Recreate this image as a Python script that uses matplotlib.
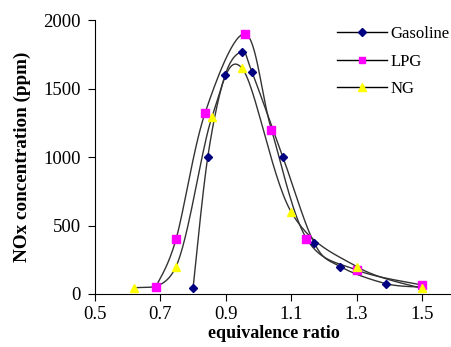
import numpy as np
import matplotlib
matplotlib.use("Agg")
import matplotlib.pyplot as plt
from matplotlib.lines import Line2D

# Data
gas_x = [0.80, 0.845, 0.898, 0.95, 0.98, 1.075, 1.17, 1.25, 1.39, 1.50]
gas_y = [40, 1000, 1600, 1770, 1625, 1000, 375, 200, 75, 50]
lpg_x = [0.686, 0.748, 0.837, 0.96, 1.04, 1.147, 1.30, 1.50]
lpg_y = [50, 400, 1325, 1900, 1200, 405, 175, 65]
ng_x = [0.62, 0.748, 0.858, 0.95, 1.10, 1.30, 1.50]
ng_y = [40, 200, 1295, 1650, 600, 200, 40]
xticks = [0.5, 0.7, 0.9, 1.1, 1.3, 1.5]
yticks = [0, 500, 1000, 1500, 2000]

plt.rcParams['font.family'] = ['Liberation Serif', 'DejaVu Serif']


def smooth(xs, ys, n=30):
    """Excel-like smoothed line (Catmull-Rom via cubic Bezier) through the points."""
    p = np.column_stack([xs, ys]).astype(float)
    sx, sy = 327.0, 0.137
    q = p * [sx, sy]
    out = []
    m = len(q)
    for i in range(m - 1):
        p0 = q[i - 1] if i > 0 else q[i]
        p1 = q[i]
        p2 = q[i + 1]
        p3 = q[i + 2] if i + 2 < m else q[i + 1]
        c1 = p1 + (p2 - p0) / 6.0
        c2 = p2 - (p3 - p1) / 6.0
        t = np.linspace(0, 1, n)[:, None]
        seg = ((1 - t) ** 3) * p1 + 3 * ((1 - t) ** 2) * t * c1 + 3 * (1 - t) * t ** 2 * c2 + t ** 3 * p2
        out.append(seg if i == 0 else seg[1:])
    r = np.vstack(out) / [sx, sy]
    return r[:, 0], r[:, 1]


fig = plt.figure(figsize=(4.52, 3.47), dpi=100)
ax = fig.add_axes([0.21, 0.153, 0.79, 0.788])

line_c = '#333333'
series = [
    (gas_x, gas_y, 'D', '#000080', 4.3, 'Gasoline'),
    (lpg_x, lpg_y, 's', '#FF00FF', 5.4, 'LPG'),
    (ng_x, ng_y, '^', '#FFFF00', 5.8, 'NG'),
]
handles = []
for xs, ys, mk, col, ms, lab in series:
    sx_, sy_ = smooth(xs, ys)
    ax.plot(sx_, sy_, color=line_c, lw=1.0, zorder=2)
for xs, ys, mk, col, ms, lab in series:
    ax.plot(xs, ys, ls='none', marker=mk, color=col, ms=ms, mec=col, zorder=3)
    handles.append(Line2D([], [], color='black', lw=1.0, marker=mk, mfc=col, mec=col,
                          ms=ms * 0.9, label=lab))

ax.set_xlim(0.5, 1.592)
ax.set_ylim(0, 2000)
ax.set_xticks(xticks)
ax.set_xticklabels([f"{v:.1f}" for v in xticks])
ax.set_yticks(yticks)
ax.set_yticklabels([str(v) for v in yticks])
ax.spines['top'].set_visible(False)
ax.spines['right'].set_visible(False)
ax.tick_params(direction='out', length=5, width=0.8, labelsize=13.5)
ax.tick_params(axis='y', pad=5)
ax.tick_params(axis='x', pad=4)
ax.set_xlabel('equivalence ratio', fontsize=13, fontweight='bold', labelpad=1)
ax.set_ylabel('NOx concentration (ppm)', fontsize=13.8, fontweight='bold', labelpad=9)

leg = ax.legend(handles=handles, loc='upper right', bbox_to_anchor=(1.035, 1.035),
                frameon=False, fontsize=12, handlelength=3.0, handletextpad=0.2,
                labelspacing=0.7)

fig.savefig('out.png', dpi=100)
